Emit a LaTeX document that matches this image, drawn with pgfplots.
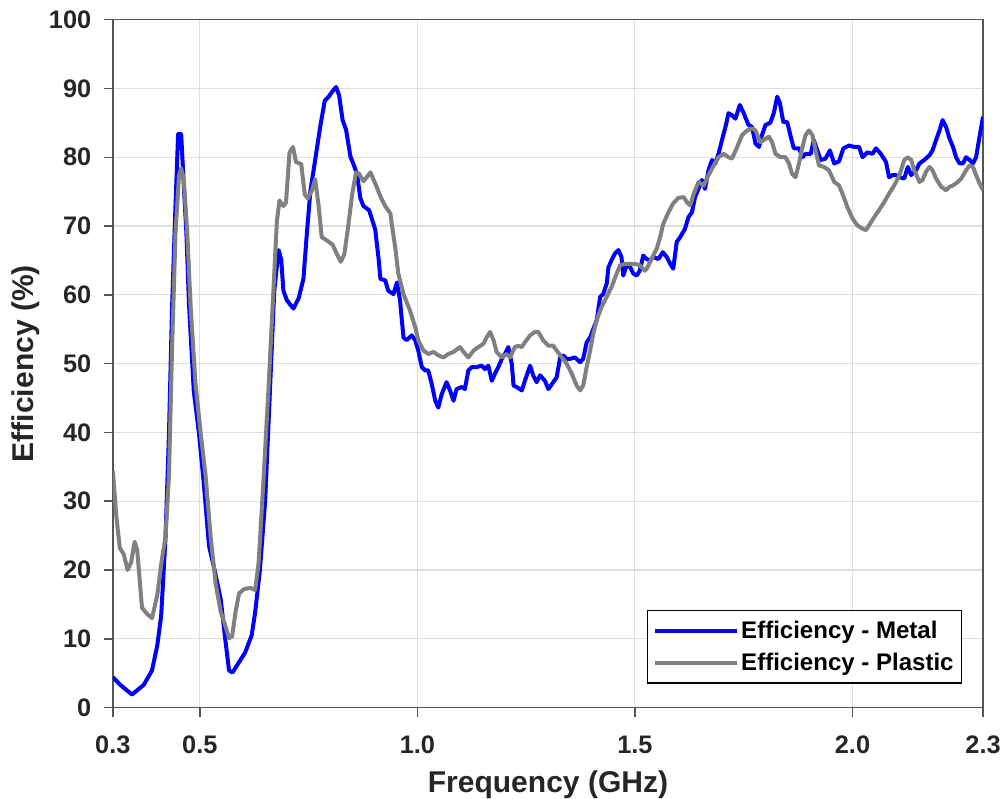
\documentclass[border=0pt]{standalone}
\usepackage{fontspec}
\setmainfont{Liberation Sans}
\usepackage{pgfplots}
\pgfplotsset{compat=1.18}
\definecolor{metal}{RGB}{0,0,255}
\definecolor{plastic}{RGB}{128,128,128}
\definecolor{gridc}{RGB}{222,222,222}
\definecolor{textc}{RGB}{38,38,38}
\definecolor{axisc}{RGB}{85,85,85}

\begin{document}
\begin{tikzpicture}
\begin{axis}[
  width=651.75pt, height=515.25pt, scale only axis,
  xmin=0.3, xmax=2.3, ymin=0, ymax=100,
  xtick={0.3,0.5,1.0,1.5,2.0,2.3},
  xticklabels={0.3,0.5,1.0,1.5,2.0,2.3},
  ytick={0,10,...,100},
  yticklabels={0,10,20,30,40,50,60,70,80,90,100},
  tick pos=left, tick align=outside, major tick length=7pt,
  grid=major, grid style={gridc, line width=0.8pt},
  axis line style={axisc, line width=1.1pt},
  every tick/.style={axisc, line width=1.1pt},
  ticklabel style={font=\fontsize{19}{23}\selectfont\bfseries, text=textc},
  xticklabel style={inner xsep=2.5pt, inner ysep=1pt},
  yticklabel style={inner xsep=1pt, inner ysep=8pt},
  xticklabel shift=13pt, yticklabel shift=8pt,
  xlabel={Frequency (GHz)}, ylabel={Efficiency (\%)},
  every axis x label/.style={at={(axis description cs:0.5,0)}, anchor=north,
    yshift=-47pt, inner sep=0pt,
    font=\fontsize{22.5}{27}\selectfont\bfseries, text=textc},
  every axis y label/.style={at={(axis description cs:-0.130,0.5)}, rotate=90,
    anchor=north, inner xsep=0pt, inner ysep=9pt,
    font=\fontsize{22.5}{27}\selectfont\bfseries, text=textc},
  legend style={at={(0.976,0.035)}, anchor=south east,
    font=\fontsize{18}{22}\selectfont\bfseries, draw=black, line width=0.8pt,
    inner xsep=4pt, inner ysep=6pt, row sep=5pt},
  legend cell align=left,
  legend image code/.code={\draw[#1] (0cm,0cm) -- (2.15cm,0cm);},
  every axis plot/.append style={line width=3pt, line join=round},
]
\addplot[metal] coordinates {
(0.300,4.4) (0.317,3.3) (0.344,1.9) (0.371,3.3) (0.390,5.4) (0.402,9.0)
(0.411,13.3) (0.421,24.7) (0.429,39.8) (0.436,58.0) (0.444,73.0) (0.450,83.4)
(0.457,83.4) (0.463,76.0) (0.469,69.0) (0.475,58.6) (0.486,46.0) (0.498,39.8)
(0.509,32.6) (0.521,23.5) (0.532,20.5) (0.548,15.7) (0.559,9.6) (0.567,5.4)
(0.575,5.1) (0.590,6.6) (0.604,8.0) (0.619,10.5) (0.627,13.8) (0.638,20.0)
(0.650,30.0) (0.661,46.0) (0.671,60.6) (0.681,66.5) (0.687,65.1) (0.692,60.6)
(0.700,59.2) (0.715,58.0) (0.727,59.5) (0.738,62.3) (0.746,69.0) (0.754,75.1)
(0.765,79.6) (0.777,84.6) (0.787,88.2) (0.796,88.8) (0.805,89.6) (0.813,90.2)
(0.820,89.0) (0.828,85.4) (0.836,84.0) (0.846,80.1) (0.853,79.0) (0.861,77.6)
(0.869,74.0) (0.876,72.9) (0.889,72.3) (0.903,69.5) (0.911,65.1) (0.915,62.3)
(0.926,62.1) (0.933,60.6) (0.945,60.1) (0.953,61.8) (0.960,59.2) (0.968,53.8)
(0.975,53.4) (0.987,54.1) (0.995,53.4) (1.002,51.9) (1.010,49.5) (1.018,49.0)
(1.025,49.0) (1.033,47.0) (1.041,44.6) (1.048,43.6) (1.056,45.6) (1.067,47.3)
(1.075,46.1) (1.083,44.6) (1.090,46.3) (1.102,46.6) (1.109,46.3) (1.117,49.0)
(1.125,49.5) (1.136,49.5) (1.148,49.7) (1.155,49.2) (1.163,49.7) (1.171,47.5)
(1.178,48.5) (1.186,49.5) (1.194,50.7) (1.201,51.4) (1.209,52.4) (1.217,49.9)
(1.221,46.8) (1.228,46.6) (1.240,46.1) (1.247,47.5) (1.259,49.7) (1.266,48.3)
(1.274,47.3) (1.282,48.3) (1.293,47.5) (1.301,46.3) (1.309,47.0) (1.320,48.0)
(1.328,50.9) (1.335,51.2) (1.343,50.7) (1.351,50.7) (1.362,50.9) (1.374,50.2)
(1.381,50.7) (1.389,53.1) (1.397,53.8) (1.404,55.0) (1.412,56.3) (1.420,59.7)
(1.427,60.1) (1.435,61.6) (1.439,64.0) (1.446,65.0) (1.454,66.0) (1.462,66.5)
(1.469,65.5) (1.473,62.8) (1.481,64.3) (1.489,64.0) (1.496,63.1) (1.504,62.8)
(1.511,63.5) (1.519,65.7) (1.527,65.2) (1.535,65.0) (1.542,65.5) (1.554,65.2)
(1.564,66.2) (1.573,65.5) (1.581,64.5) (1.588,63.8) (1.596,67.7) (1.604,68.4)
(1.615,69.6) (1.623,71.3) (1.631,72.0) (1.638,74.2) (1.646,75.4) (1.654,76.7)
(1.661,75.4) (1.669,78.1) (1.677,79.6) (1.685,79.1) (1.692,80.5) (1.700,82.5)
(1.708,84.4) (1.715,86.4) (1.723,86.1) (1.731,85.6) (1.741,87.6) (1.750,86.4)
(1.761,84.7) (1.769,84.4) (1.777,82.0) (1.785,81.5) (1.792,83.2) (1.800,84.7)
(1.811,85.0) (1.819,86.4) (1.827,88.8) (1.833,87.9) (1.841,85.1) (1.850,85.1)
(1.858,83.0) (1.865,81.3) (1.877,81.3) (1.885,80.0) (1.892,80.5) (1.904,80.5)
(1.911,82.5) (1.919,81.0) (1.927,79.6) (1.938,79.8) (1.948,81.0) (1.958,79.1)
(1.969,79.4) (1.979,81.3) (1.992,81.7) (2.004,81.5) (2.015,81.5) (2.023,80.0)
(2.034,80.7) (2.046,80.5) (2.054,81.3) (2.065,80.5) (2.077,79.3) (2.084,77.1)
(2.092,77.4) (2.100,77.4) (2.108,77.1) (2.119,76.9) (2.127,78.6) (2.135,77.4)
(2.146,78.1) (2.154,79.1) (2.165,79.6) (2.177,80.3) (2.184,81.0) (2.192,82.5)
(2.200,83.9) (2.207,85.4) (2.215,84.4) (2.223,82.7) (2.231,81.5) (2.238,80.0)
(2.246,79.1) (2.254,79.1) (2.261,80.0) (2.269,79.6) (2.277,79.1) (2.284,80.0)
(2.292,83.0) (2.300,85.9)
};
\addlegendentry{Efficiency - Metal}
\addplot[plastic] coordinates {
(0.300,34.4) (0.308,27.8) (0.316,23.2) (0.325,22.3) (0.334,20.0) (0.342,21.1)
(0.350,24.1) (0.356,22.9) (0.367,14.5) (0.379,13.6) (0.390,13.0) (0.402,16.3)
(0.413,21.7) (0.421,24.7) (0.429,33.8) (0.436,52.0) (0.444,69.0) (0.452,77.3)
(0.457,78.4) (0.463,76.7) (0.471,69.0) (0.479,58.0) (0.490,47.1) (0.502,39.8)
(0.513,33.8) (0.525,24.7) (0.536,18.1) (0.548,13.9) (0.559,11.8) (0.567,10.1)
(0.574,10.3) (0.582,13.9) (0.590,16.6) (0.601,17.2) (0.615,17.4) (0.627,17.1)
(0.635,21.0) (0.646,32.8) (0.658,46.7) (0.669,60.6) (0.677,70.7) (0.683,73.7)
(0.692,72.9) (0.698,73.4) (0.706,80.7) (0.714,81.5) (0.721,79.3) (0.733,79.0)
(0.741,74.6) (0.748,74.0) (0.757,75.1) (0.765,76.8) (0.773,72.9) (0.780,68.4)
(0.792,67.9) (0.805,67.3) (0.815,65.9) (0.824,64.8) (0.832,65.9) (0.840,69.5)
(0.850,74.6) (0.859,77.8) (0.866,77.6) (0.876,76.5) (0.892,77.8) (0.903,76.2)
(0.915,74.3) (0.926,72.9) (0.938,71.8) (0.941,70.3) (0.949,66.9) (0.956,63.1)
(0.968,60.1) (0.983,57.7) (0.995,55.3) (1.002,53.4) (1.014,51.9) (1.025,51.4)
(1.037,51.7) (1.048,51.2) (1.060,50.9) (1.071,51.4) (1.083,51.7) (1.098,52.4)
(1.106,51.7) (1.117,50.9) (1.129,51.9) (1.140,52.4) (1.152,52.9) (1.159,53.8)
(1.167,54.6) (1.175,53.4) (1.182,51.7) (1.194,50.9) (1.205,51.4) (1.213,50.9)
(1.224,52.4) (1.232,52.6) (1.240,52.4) (1.247,53.1) (1.259,54.1) (1.270,54.6)
(1.278,54.6) (1.289,53.4) (1.301,52.6) (1.312,52.6) (1.320,51.9) (1.332,50.9)
(1.343,50.0) (1.355,48.5) (1.366,46.8) (1.374,46.1) (1.381,46.8) (1.389,49.5)
(1.397,51.9) (1.404,54.3) (1.412,56.3) (1.423,58.2) (1.435,59.7) (1.446,61.1)
(1.458,63.1) (1.466,64.3) (1.477,64.5) (1.489,64.5) (1.500,64.5) (1.511,64.3)
(1.523,63.5) (1.527,63.8) (1.538,65.2) (1.550,66.7) (1.558,68.4) (1.565,70.3)
(1.577,72.0) (1.588,73.3) (1.600,74.1) (1.612,74.2) (1.619,73.5) (1.627,73.0)
(1.635,74.7) (1.646,76.4) (1.658,75.9) (1.669,77.4) (1.681,78.8) (1.692,80.0)
(1.704,80.5) (1.715,80.0) (1.723,79.8) (1.735,81.5) (1.746,83.2) (1.758,83.9)
(1.769,84.2) (1.777,83.9) (1.788,82.2) (1.796,82.5) (1.808,83.0) (1.815,82.2)
(1.823,80.5) (1.835,80.0) (1.846,80.0) (1.854,79.1) (1.861,77.6) (1.869,77.1)
(1.877,79.1) (1.885,81.5) (1.892,83.2) (1.900,83.9) (1.908,83.2) (1.915,81.0)
(1.923,78.8) (1.934,78.6) (1.946,78.1) (1.958,76.4) (1.969,75.9) (1.977,74.7)
(1.988,72.8) (2.000,71.1) (2.011,70.1) (2.023,69.6) (2.031,69.4) (2.038,70.1)
(2.050,71.3) (2.061,72.3) (2.073,73.5) (2.084,74.7) (2.096,75.9) (2.108,77.4)
(2.119,79.6) (2.127,80.0) (2.135,79.6) (2.142,78.1) (2.154,76.4) (2.161,76.7)
(2.169,77.9) (2.177,78.6) (2.184,78.1) (2.192,76.9) (2.204,75.7) (2.215,75.2)
(2.223,75.7) (2.231,75.9) (2.242,76.4) (2.250,76.9) (2.261,78.1) (2.269,78.8)
(2.277,78.6) (2.284,77.4) (2.292,76.2) (2.300,75.2)
};
\addlegendentry{Efficiency - Plastic}
\end{axis}
\end{tikzpicture}
\end{document}
